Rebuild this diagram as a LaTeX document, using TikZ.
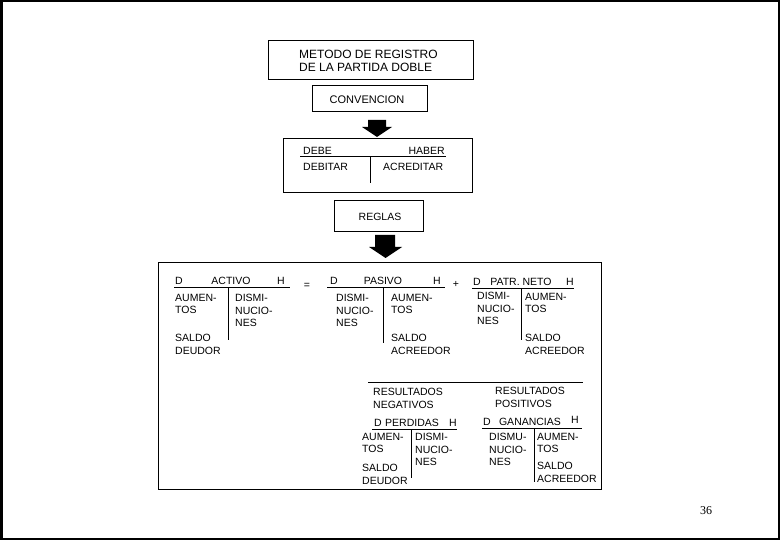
\documentclass[tikz,border=0pt]{standalone}
\usepackage{fontspec}
\setmainfont{Liberation Sans}
\newfontfamily\numfont{Liberation Serif}
\begin{document}
\begin{tikzpicture}[x=1pt,y=-1pt,
  lbl/.style={inner sep=0pt, anchor=north west, align=left, font=\fontsize{10.5}{12.5}\selectfont},
  hdr/.style={inner sep=0pt, anchor=base, font=\fontsize{10.5}{12}\selectfont},
  box/.style={draw, line width=1pt},
  tline/.style={line width=0.9pt},
  blockarrow/.style={fill=black}]
\useasboundingbox (0,0) rectangle (780,540);
\draw[line width=2.5pt] (1.25,1.25) rectangle (778.75,538.75);

% ---- top part ----
\draw[box] (268,41) rectangle (473,80);
\node[lbl, font=\fontsize{12}{13}\selectfont] (title) at (299,50) {METODO DE REGISTRO\\DE LA PARTIDA DOBLE};

\node[box, minimum width=115pt, minimum height=26pt, inner sep=0pt] (convbox) at (369.5,99) {};
\node[hdr, font=\fontsize{11}{12}\selectfont, anchor=center] (conv) at (367,100) {CONVENCION};

\fill[blockarrow] (368,120) -- (386,120) -- (386,127) -- (392,127) -- (377,137) -- (362,127) -- (368,127) -- cycle;

\draw[box] (283,139) rectangle (472,193);
\node[hdr, anchor=base west] (debe) at (303,155) {DEBE};
\node[hdr, anchor=base east] (haber) at (445,155) {HABER};
\coordinate (dl) at (300,156.7);
\coordinate (dr) at (446,156.7);
\draw[tline] (dl) -- (dr);
\coordinate (dvt) at (370,156.7);
\coordinate (dvb) at (370,183);
\draw[tline] (dvt) -- (dvb);
\node[lbl] (debitar) at (303,163) {DEBITAR};
\node[lbl] (acreditar) at (383,163) {ACREDITAR};

\node[box, minimum width=89pt, minimum height=31pt, inner sep=0pt] (reglasbox) at (378.5,216.5) {};
\node[hdr, anchor=center] (reglas) at (380,217) {REGLAS};

\fill[blockarrow] (375,235) -- (395,235) -- (395,247) -- (402,247) -- (385.5,258) -- (369,247) -- (375,247) -- cycle;

% ---- big box ----
\draw[box] (158,263) rectangle (601,489);

% ACTIVO
\node[hdr, anchor=base west] (aD) at (175,285) {D};
\node[hdr] (aname) at (231,285) {ACTIVO};
\node[hdr] (aH) at (281,285) {H};
\coordinate (al) at (174,287.5);
\coordinate (ar) at (290,287.5);
\draw[tline] (al) -- (ar);
\coordinate (avt) at (228,287.5);
\coordinate (avb) at (228,340);
\draw[tline] (avt) -- (avb);
\node[lbl] (aum1) at (175,294) {AUMEN-\\TOS};
\node[lbl] (sal1) at (175,334) {SALDO\\DEUDOR};
\node[lbl] (dis1) at (235,294) {DISMI-\\NUCIO-\\NES};

\node[hdr] (eq) at (307,289) {=};

% PASIVO
\node[hdr, anchor=base west] (pD) at (330,285) {D};
\node[hdr] (pname) at (383,285) {PASIVO};
\node[hdr] (pH) at (437,285) {H};
\coordinate (pl) at (327,287.5);
\coordinate (pr) at (445,287.5);
\draw[tline] (pl) -- (pr);
\coordinate (pvt) at (383,287.5);
\coordinate (pvb) at (383,343);
\draw[tline] (pvt) -- (pvb);
\node[lbl] (dis2) at (336,294) {DISMI-\\NUCIO-\\NES};
\node[lbl] (aum2) at (391,294) {AUMEN-\\TOS};
\node[lbl] (sal2) at (391,334) {SALDO\\ACREEDOR};

\node[hdr] (plus) at (456,288) {+};

% PATR. NETO
\node[hdr, anchor=base west] (nD) at (473,285.5) {D};
\node[hdr] (nname) at (521,285.5) {PATR. NETO};
\node[hdr] (nH) at (570,285.5) {H};
\coordinate (nl) at (472,288);
\coordinate (nr) at (574,288);
\draw[tline] (nl) -- (nr);
\coordinate (nvt) at (521,288);
\coordinate (nvb) at (521,340);
\draw[tline] (nvt) -- (nvb);
\node[lbl] (dis3) at (477,292) {DISMI-\\NUCIO-\\NES};
\node[lbl] (aum3) at (525,293) {AUMEN-\\TOS};
\node[lbl] (sal3) at (525,334) {SALDO\\ACREEDOR};

% RESULTADOS
\coordinate (rl) at (368,382);
\coordinate (rr) at (583,382);
\draw[tline] (rl) -- (rr);
\node[lbl] (resneg) at (373,388) {RESULTADOS\\NEGATIVOS};
\node[lbl] (respos) at (495,387) {RESULTADOS\\POSITIVOS};

% PERDIDAS
\node[hdr, anchor=base west] (peD) at (374,426) {D};
\node[hdr] (pename) at (412,426) {PERDIDAS};
\node[hdr] (peH) at (453,426) {H};
\coordinate (pel) at (372,429);
\coordinate (per) at (457,429);
\draw[tline] (pel) -- (per);
\coordinate (pevt) at (411,429);
\coordinate (pevb) at (411,478);
\draw[tline] (pevt) -- (pevb);
\node[lbl] (aum4) at (362,433) {AUMEN-\\TOS};
\node[lbl] (sal4) at (362,464) {SALDO\\DEUDOR};
\node[lbl] (dis4) at (415,433) {DISMI-\\NUCIO-\\NES};

% GANANCIAS
\node[hdr, anchor=base west] (gD) at (483,425) {D};
\node[hdr] (gname) at (530,425) {GANANCIAS};
\node[hdr] (gH) at (575,423) {H};
\coordinate (gl) at (482,428);
\coordinate (gr) at (582,428);
\draw[tline] (gl) -- (gr);
\coordinate (gvt) at (534,428);
\coordinate (gvb) at (534,482);
\draw[tline] (gvt) -- (gvb);
\node[lbl] (dis5) at (489,433) {DISMU-\\NUCIO-\\NES};
\node[lbl] (aum5) at (537,433) {AUMEN-\\TOS};
\node[lbl] (sal5) at (537,462) {SALDO\\ACREEDOR};

% page number
\node[inner sep=0pt, font=\numfont\fontsize{12}{14}\selectfont] (pagenum) at (706,511) {36};
\end{tikzpicture}
\end{document}
